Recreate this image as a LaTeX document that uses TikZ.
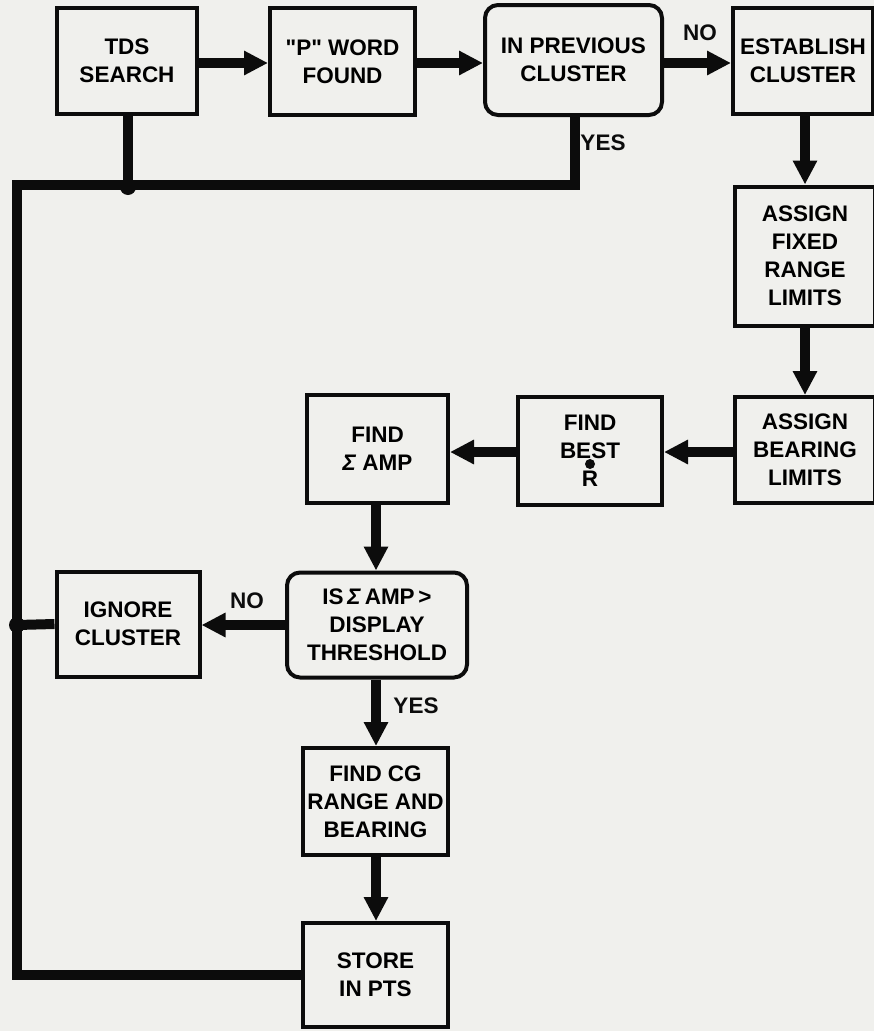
\documentclass[tikz,border=0pt]{standalone}
\usepackage{fontspec}
\setmainfont{Liberation Sans}[Ligatures=TeXOff]
\usetikzlibrary{arrows.meta}
\definecolor{paper}{RGB}{240,240,237}
\definecolor{ink}{RGB}{12,12,12}
\begin{document}
\begin{tikzpicture}[x=1pt,y=-1pt,
  font=\fontsize{22.5}{28}\selectfont\bfseries,
  box/.style={draw=ink, line width=4pt, align=center, inner sep=0pt},
  rbox/.style={box, rounded corners=13pt},
  flow/.style={draw=ink, line width=10pt, -{Triangle[length=24pt,width=23pt]}},
  link/.style={draw=ink, line width=10pt},
  lbl/.style={text=ink, inner sep=0pt}]
\fill[paper] (0,0) rectangle (874,1031);
\useasboundingbox (0,0) rectangle (874,1031);

\node[box, minimum width=140pt, minimum height=106pt] (tds) at (127,61) {TDS\\SEARCH};
\node[box, minimum width=145pt, minimum height=107pt] (pword) at (342.5,61.5) {"P" WORD\\FOUND};
\node[rbox, minimum width=177pt, minimum height=110pt] (prev) at (573.5,60) {IN PREVIOUS\\CLUSTER};
\node[box, minimum width=140pt, minimum height=106pt] (estab) at (803,61) {ESTABLISH\\CLUSTER};
\node[box, minimum width=140pt, minimum height=139pt] (fixed) at (805,256) {ASSIGN\\FIXED\\RANGE\\LIMITS};
\node[box, minimum width=140pt, minimum height=106pt] (bearing) at (805,450) {ASSIGN\\BEARING\\LIMITS};
\node[box, minimum width=144pt, minimum height=108pt] (bestr) at (590,451) {FIND\\BEST\\R};
\node[box, minimum width=141pt, minimum height=108pt] (sumamp) at (377.5,449) {FIND\\\textit{Σ} AMP};
\node[rbox, minimum width=180pt, minimum height=105pt] (thresh) at (377,625) {IS\,\textit{Σ}\,AMP\,>\\DISPLAY\\THRESHOLD};
\node[box, minimum width=143pt, minimum height=105pt] (ignore) at (128,624) {IGNORE\\CLUSTER};
\node[box, minimum width=145pt, minimum height=107pt] (cg) at (375.5,801.5) {FIND CG\\RANGE AND\\BEARING};
\node[box, minimum width=145pt, minimum height=104pt] (store) at (375.5,975) {STORE\\IN PTS};

\fill[ink] ([yshift=-13pt]bestr.center) circle (5pt);

\coordinate (tl) at (17,185);
\coordinate (j1) at (128,185);
\coordinate (j2) at (575,185);
\coordinate (bl) at (17,975);
\coordinate (ml) at (17,625);

\draw[flow] (tds.east |- 0,63) -- (pword.west |- 0,63);
\draw[flow] (pword.east |- 0,63) -- (prev.west |- 0,63);
\draw[flow] (prev.east |- 0,63) -- (estab.west |- 0,63);
\draw[flow] (estab.south -| 805,0) -- (fixed.north);
\draw[flow] (fixed.south) -- (bearing.north);
\draw[flow] (bearing.west |- 0,452) -- (bestr.east |- 0,452);
\draw[flow] (bestr.west |- 0,452) -- (sumamp.east |- 0,452);
\draw[flow] (sumamp.south -| 376,0) -- (thresh.north -| 376,0);
\draw[flow] (thresh.west) -- (ignore.east |- thresh.west);
\draw[flow] (thresh.south -| 376,0) -- (cg.north -| 376,0);
\draw[flow] (cg.south -| 376,0) -- (store.north -| 376,0);

\draw[link, line join=miter] (store.west) -- (bl) -- (tl) -- (j2) -- (prev.south -| j2);
\draw[link] (tds.south -| j1) -- (j1);
\draw[link] (ignore.west) -- (ml);
\fill[ink] (128,187) circle (8pt);
\fill[ink] (ml) circle (8pt);

\node[lbl] (no1) at (700,33) {NO};
\node[lbl] (yes1) at (603,143) {YES};
\node[lbl] (no2) at (247,601) {NO};
\node[lbl] (yes2) at (416,706) {YES};
\end{tikzpicture}
\end{document}
